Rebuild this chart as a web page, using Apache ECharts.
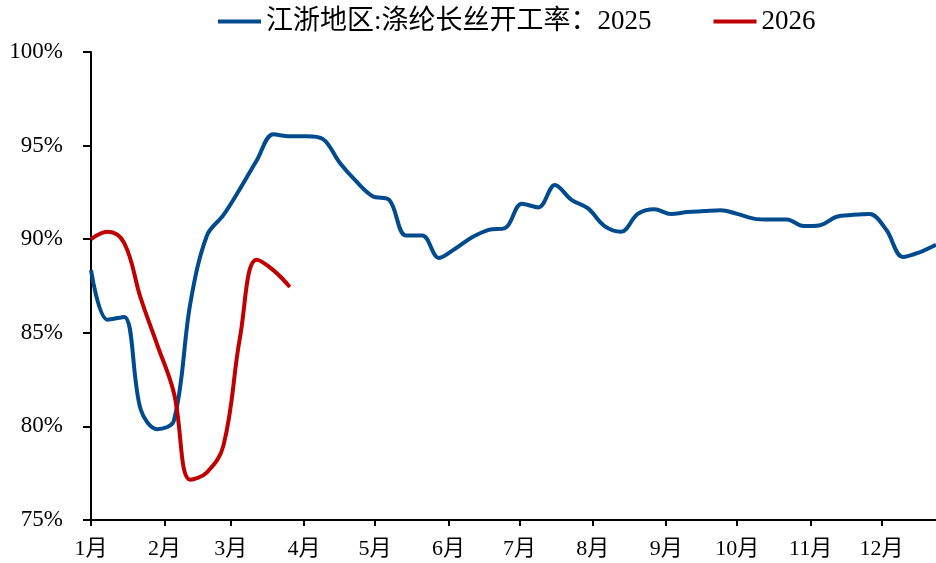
<!DOCTYPE html>
<html>
<head>
<meta charset="utf-8">
<script src="https://cdn.jsdelivr.net/npm/echarts@6/dist/echarts.min.js"></script>
<style>
  html, body { margin: 0; padding: 0; background: #fff; }
  #container { width: 936px; height: 563px; }
</style>
</head>
<body>
<div id="container"></div>
<script>
var startDate = '2025-01-01';
var dayCount = 358;

// weekly readings, one every 7 days from Jan 1
var seriesNames = ['江浙地区:涤纶长丝开工率：2025', '2026'];
var rate2025 = [88.35, 85.7, 85.85, 80.9, 79.85, 80.3, 86.6, 90.2, 91.3, 92.7,
    94.2, 95.6, 95.5, 95.5, 95.35, 94.1, 93.1, 92.3, 92.1, 90.2,
    90.2, 89.0, 89.5, 90.1, 90.5, 90.6, 91.9, 91.7, 92.9, 92.1,
    91.65, 90.7, 90.4, 91.35, 91.6, 91.35, 91.45, 91.5, 91.55, 91.35,
    91.1, 91.05, 91.05, 90.7, 90.75, 91.2, 91.3, 91.35, 90.5, 89.05,
    89.3, 89.7];
var rate2026 = [90.0, 90.4, 89.8, 86.85, 84.35, 81.8, 77.15, 77.55, 79.0, 84.8,
    88.9, 88.35, 87.45];
var yTicks = [75, 80, 85, 90, 95, 100];

var days = [];
var d0 = new Date(startDate + 'T00:00:00Z');
for (var i = 0; i < dayCount; i++) {
    var d = new Date(d0.getTime() + i * 86400000);
    days.push(d.toISOString().slice(0, 10));
}

function weekly(vals) {
    return vals.map(function (v, k) { return [7 * k, v]; });
}

function isMonthStart(index, value) {
    return value.slice(8, 10) === '01';
}

var serif = '"Liberation Serif", "Times New Roman", "Noto Sans CJK SC", serif';

var dom = document.getElementById('container');
var myChart = echarts.init(dom);
var option = {
    animation: false,
    legend: {
        left: 213,
        top: 3,
        icon: 'rect',
        itemWidth: 43,
        itemHeight: 4,
        itemGap: 62,
        textStyle: { fontFamily: serif, fontSize: 27, color: '#000' },
        data: seriesNames
    },
    grid: { left: 91, right: 0, top: 52, bottom: 43 },
    xAxis: {
        type: 'category',
        boundaryGap: false,
        data: days,
        axisLine: { lineStyle: { color: '#000', width: 2 } },
        axisTick: { interval: isMonthStart, length: 6, lineStyle: { color: '#000', width: 2 } },
        axisLabel: {
            interval: isMonthStart,
            margin: 18,
            fontFamily: serif,
            fontSize: 22,
            color: '#000',
            formatter: function (v) { return parseInt(v.slice(5, 7), 10) + '月'; }
        },
        splitLine: { show: false }
    },
    yAxis: {
        type: 'value',
        min: yTicks[0],
        max: yTicks[yTicks.length - 1],
        interval: 5,
        axisLine: { show: true, lineStyle: { color: '#000', width: 2 } },
        axisTick: { show: true, length: 8, lineStyle: { color: '#000', width: 2 } },
        axisLabel: { margin: 28, fontFamily: serif, fontSize: 23, color: '#000', formatter: '{value}%' },
        splitLine: { show: false }
    },
    series: [{
        name: seriesNames[0],
        type: 'line',
        smooth: 0.35,
        symbol: 'none',
        itemStyle: { color: '#004B8D' },
        lineStyle: { color: '#004B8D', width: 4 },
        data: weekly(rate2025)
    }, {
        name: seriesNames[1],
        type: 'line',
        smooth: 0.4,
        symbol: 'none',
        itemStyle: { color: '#C00000' },
        lineStyle: { color: '#C00000', width: 4 },
        data: weekly(rate2026)
    }]
};
myChart.setOption(option);
</script>
</body>
</html>
